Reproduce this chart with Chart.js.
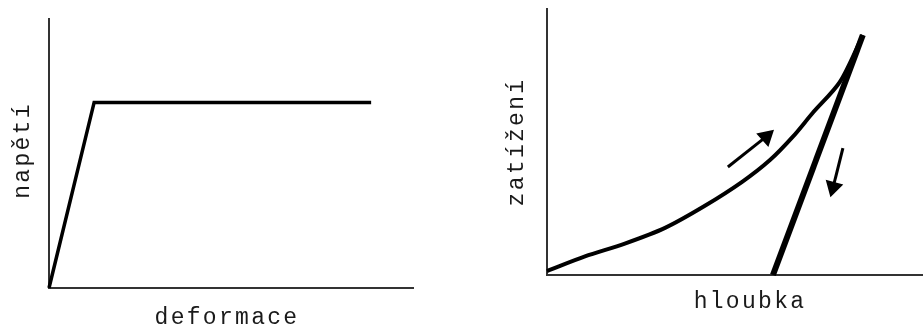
<!DOCTYPE html>
<html>
<head>
<meta charset="utf-8">
<script src="https://cdn.jsdelivr.net/npm/chart.js@4.4.1/dist/chart.umd.min.js"></script>
<style>
  html, body { margin: 0; padding: 0; background: #fff; overflow: hidden; }
  #wrap { position: relative; width: 923px; height: 329px; }
  #wrap canvas { position: absolute; top: 0; }
  #stress-chart { left: 0; }
  #load-chart { left: 460px; }
</style>
</head>
<body>
<div id="wrap">
  <canvas id="stress-chart" width="460" height="329"></canvas>
  <canvas id="load-chart" width="463" height="329"></canvas>
</div>
<script>
/* ── data: left panel (napětí / deformace) ── */
const strainX = [0, 12.4, 88.5];
const stressY = [0, 69, 69];

/* ── data: right panel (zatížení / hloubka) ── */
const loadDepth   = [0, 10.1, 20.7, 31.4, 42.0, 51.9, 59.3, 65.4, 70.7, 77.9, 84.0];
const loadForce   = [1.5, 7.0, 11.8, 17.7, 26.0, 35.0, 43.2, 52.0, 61.0, 72.6, 90.2];
const unloadDepth = [84.0, 60.1];
const unloadForce = [90.2, 0];
const arrowUpX    = [48.1, 58.3];
const arrowUpY    = [40.6, 52.0];
const arrowDownX  = [78.7, 76.1];
const arrowDownY  = [47.7, 33.0];

const leftTitles  = ['deformace', 'napětí'];
const rightTitles = ['hloubka', 'zatížení'];

function toPoints(xs, ys) {
  return xs.map((x, i) => ({ x, y: ys[i] }));
}

/* ── axis titles drawn in the old typewriter look ── */
const axisTitles = {
  id: 'axisTitles',
  afterDraw(chart, args, opts) {
    const { ctx, chartArea: a } = chart;
    ctx.save();
    ctx.font = '23px "Liberation Mono", monospace';
    ctx.fillStyle = '#1a1a1a';
    ctx.letterSpacing = '2.3px';
    ctx.textAlign = 'center';
    ctx.textBaseline = 'alphabetic';
    ctx.fillText(opts.x, (a.left + a.right) / 2 + opts.xShift, a.bottom + opts.xGap);
    ctx.translate(opts.yPos, (a.top + a.bottom) / 2 + opts.yShift);
    ctx.rotate(-Math.PI / 2);
    ctx.textBaseline = 'middle';
    ctx.fillText(opts.y, 0, 0);
    ctx.restore();
  }
};

function plainScale() {
  return {
    type: 'linear', min: 0, max: 100,
    ticks: { display: false },
    grid: { display: false, drawTicks: false, tickLength: 0 },
    border: { display: true, color: '#333', width: 2 }
  };
}

function baseOptions(padding, titles) {
  return {
    responsive: false,
    animation: false,
    layout: { padding, autoPadding: false },
    plugins: {
      legend: { display: false },
      tooltip: { enabled: false },
      axisTitles: titles
    },
    scales: { x: plainScale(), y: plainScale() }
  };
}

// ── Stress / strain chart ──
new Chart(document.getElementById('stress-chart'), {
  type: 'line',
  data: {
    datasets: [{
      data: toPoints(strainX, stressY),
      borderColor: '#000', borderWidth: 3.5,
      pointRadius: 0, tension: 0, clip: false
    }]
  },
  options: baseOptions(
    { left: 49, top: 19, right: 47, bottom: 41 },
    { x: leftTitles[0], y: leftTitles[1], xShift: -4, xGap: 36, yPos: 23, yShift: -3 }
  ),
  plugins: [axisTitles]
});

// ── Load / depth chart ──
const arrowStyle = {
  borderColor: '#000', borderWidth: 3,
  pointRadius: [0, 7.5], pointStyle: 'triangle',
  pointBackgroundColor: '#000', pointBorderColor: '#000',
  tension: 0, clip: false
};

new Chart(document.getElementById('load-chart'), {
  type: 'line',
  data: {
    datasets: [
      {
        data: toPoints(loadDepth, loadForce),
        borderColor: '#000', borderWidth: 4,
        pointRadius: 0, tension: 0.3, clip: false
      },
      {
        data: toPoints(unloadDepth, unloadForce),
        borderColor: '#000', borderWidth: 6,
        pointRadius: 0, tension: 0, clip: false
      },
      Object.assign({ data: toPoints(arrowUpX, arrowUpY), rotation: [0, 48] }, arrowStyle),
      Object.assign({ data: toPoints(arrowDownX, arrowDownY), rotation: [0, 195] }, arrowStyle)
    ]
  },
  options: baseOptions(
    { left: 87, top: 9, right: 0, bottom: 54 },
    { x: rightTitles[0], y: rightTitles[1], xShift: 15, xGap: 33, yPos: 57, yShift: 0 }
  ),
  plugins: [axisTitles]
});
</script>
</body>
</html>
